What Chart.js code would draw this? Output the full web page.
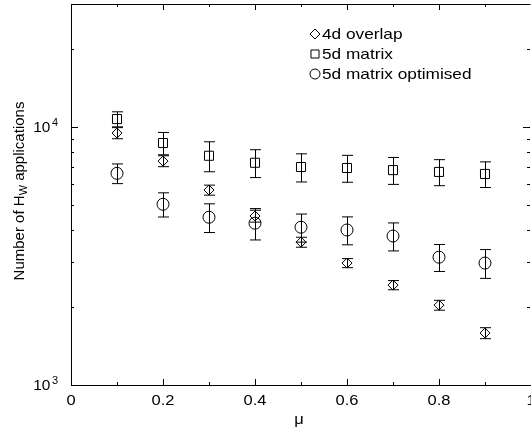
<!DOCTYPE html>
<html>
<head>
<meta charset="utf-8">
<script src="https://cdn.jsdelivr.net/npm/chart.js@4.4.0/dist/chart.umd.min.js"></script>
<style>
html, body { margin: 0; padding: 0; background: #fff; }
#wrap { width: 531px; height: 432px; }
</style>
</head>
<body>
<div id="wrap"><canvas id="chart"></canvas></div>
<script>
// values
const mu = [0.1, 0.2, 0.3, 0.4, 0.5, 0.6, 0.7, 0.8, 0.9];
const overlap4d = [9480, 7380, 5700, 4520, 3580, 2970, 2440, 2040, 1590];
const overlap4dErr = [470, 360, 255, 240, 160, 120, 100, 90, 78];
const matrix5d = [10740, 8670, 7740, 7270, 7000, 6940, 6810, 6700, 6580];
const matrix5dErr = [720, 860, 1030, 900, 875, 830, 815, 775, 750];
const matrix5dOpt = [6615, 5020, 4470, 4240, 4090, 3990, 3780, 3130, 2970];
const matrix5dOptErr = [580, 540, 570, 590, 510, 495, 470, 375, 380];

const seriesNames = ['4d overlap', '5d matrix', '5d matrix optimised'];
const xTicks = [0, 0.2, 0.4, 0.6, 0.8, 1];
const xTickLabels = ['0', '0.2', '0.4', '0.6', '0.8', '1'];
const xMinorTicks = [0.1, 0.3, 0.5, 0.7, 0.9];
const yTicks = [1000, 10000];
const yTickExp = ['3', '4'];
const yMinorTicks = [2000, 3000, 4000, 5000, 6000, 7000, 8000, 9000, 20000];

const FONT = '"Liberation Sans", Arial, sans-serif';

function pts(ys, errs)
{
    return mu.map((x, i) => ({ x: x, y: ys[i], err: errs[i] }));
}

// text with a little horizontal stretch, like the original postscript
function text(ctx, s, x, y, size, align, sx)
{
    ctx.save();
    ctx.font = size + 'px ' + FONT;
    const w = ctx.measureText(s).width * sx;
    let x0 = x;
    if (align === 'center') x0 = x - w / 2;
    if (align === 'right') x0 = x - w;
    ctx.translate(x0, y);
    ctx.scale(sx, 1);
    ctx.textAlign = 'left';
    ctx.textBaseline = 'alphabetic';
    ctx.fillStyle = '#000';
    ctx.fillText(s, 0, 0);
    ctx.restore();
    return w;
}

const errorBars = {
    id: 'errorBars',
    beforeDatasetsDraw(chart) {
        const ctx = chart.ctx;
        const xs = chart.scales.x, ys = chart.scales.y;
        ctx.save();
        ctx.strokeStyle = '#000';
        ctx.lineWidth = 1;
        chart.data.datasets.forEach(ds => {
            ds.data.forEach(p => {
                const px = Math.round(xs.getPixelForValue(p.x)) + 0.5;
                const top = ys.getPixelForValue(p.y + p.err);
                const bot = ys.getPixelForValue(p.y - p.err);
                ctx.beginPath();
                ctx.moveTo(px, top); ctx.lineTo(px, bot);
                ctx.moveTo(px - 5.5, top); ctx.lineTo(px + 5.5, top);
                ctx.moveTo(px - 5.5, bot); ctx.lineTo(px + 5.5, bot);
                ctx.stroke();
            });
        });
        ctx.restore();
    }
};

const frame = {
    id: 'frame',
    afterDraw(chart) {
        const ctx = chart.ctx;
        const a = chart.chartArea;
        const xs = chart.scales.x, ys = chart.scales.y;
        ctx.save();
        ctx.strokeStyle = '#000';
        ctx.lineWidth = 1;
        ctx.beginPath();
        ctx.moveTo(a.left + 0.5, a.top + 0.5);
        ctx.lineTo(a.right - 0.5, a.top + 0.5);
        ctx.moveTo(a.left + 0.5, a.top);
        ctx.lineTo(a.left + 0.5, a.bottom + 0.5);
        ctx.lineTo(a.right, a.bottom + 0.5);
        ctx.stroke();

        // ticks point inwards on all four sides
        ctx.beginPath();
        const xt = (v, len) => {
            const px = Math.round(xs.getPixelForValue(v)) + 0.5;
            ctx.moveTo(px, a.bottom); ctx.lineTo(px, a.bottom - len);
            ctx.moveTo(px, a.top); ctx.lineTo(px, a.top + len);
        };
        const yt = (v, len) => {
            const py = Math.round(ys.getPixelForValue(v)) + 0.5;
            ctx.moveTo(a.left, py); ctx.lineTo(a.left + len, py);
            ctx.moveTo(a.right - 1, py); ctx.lineTo(a.right - 1 - len, py);
        };
        xTicks.forEach(v => xt(v, 6));
        xMinorTicks.forEach(v => xt(v, 3));
        yTicks.forEach(v => yt(v, 7));
        yMinorTicks.forEach(v => yt(v, 3));
        ctx.stroke();

        xTicks.forEach((v, i) => {
            text(ctx, xTickLabels[i], xs.getPixelForValue(v), a.bottom + 20, 15, 'center', 1.1);
        });
        yTicks.forEach((v, i) => {
            const py = ys.getPixelForValue(v);
            const sw = text(ctx, yTickExp[i], 58, py - 1, 10, 'right', 1.1);
            text(ctx, '10', 58 - sw - 1.5, py + 5, 14, 'right', 1.1);
        });

        text(ctx, '\u03bc', 299, 424, 15, 'center', 1.1);

        // rotated y title with subscript W
        ctx.save();
        ctx.translate(24, 191);
        ctx.rotate(-Math.PI / 2);
        ctx.fillStyle = '#000';
        ctx.textBaseline = 'alphabetic';
        ctx.font = '15px ' + FONT;
        const p1 = 'Number of H', p3 = ' applications';
        const w1 = ctx.measureText(p1).width, w3 = ctx.measureText(p3).width;
        ctx.font = '11px ' + FONT;
        const w2 = ctx.measureText('W').width;
        let x = -(w1 + w2 + w3) / 2;
        ctx.font = '15px ' + FONT;
        ctx.fillText(p1, x, 0);
        ctx.font = '11px ' + FONT;
        ctx.fillText('W', x + w1, 3);
        ctx.font = '15px ' + FONT;
        ctx.fillText(p3, x + w1 + w2, 0);
        ctx.restore();

        // legend, hollow symbols like the plot
        const rows = [34, 54, 74];
        chart.data.datasets.forEach((ds, i) => {
            ctx.save();
            ctx.fillStyle = 'rgba(0,0,0,0)';
            ctx.strokeStyle = '#000';
            ctx.lineWidth = 1;
            Chart.helpers.drawPoint(ctx, {
                pointStyle: ds.pointStyle,
                radius: ds.legendRadius,
                rotation: 0,
                borderWidth: 1
            }, 315, rows[i]);
            ctx.restore();
            text(ctx, seriesNames[i], 322, rows[i] + 5, 15, 'left', 1.15);
        });
        ctx.restore();
    }
};

const common = {
    showLine: false,
    borderColor: '#000',
    backgroundColor: 'rgba(0,0,0,0)',
    borderWidth: 1,
    pointBorderWidth: 1
};

new Chart(document.getElementById('chart'), {
    type: 'scatter',
    data: {
        datasets: [
            Object.assign({ label: seriesNames[0], data: pts(overlap4d, overlap4dErr), pointStyle: 'rectRot', pointRadius: 5, legendRadius: 5 }, common),
            Object.assign({ label: seriesNames[1], data: pts(matrix5d, matrix5dErr), pointStyle: 'rect', pointRadius: 6.4, legendRadius: 5.7 }, common),
            Object.assign({ label: seriesNames[2], data: pts(matrix5dOpt, matrix5dOptErr), pointStyle: 'circle', pointRadius: 6, legendRadius: 5 }, common)
        ]
    },
    options: {
        responsive: true,
        maintainAspectRatio: false,
        animation: false,
        layout: { autoPadding: false, padding: { left: 71, right: 0, top: 4, bottom: 47 } },
        plugins: {
            legend: { display: false },
            tooltip: { enabled: false }
        },
        elements: { point: { hoverRadius: 6 } },
        scales: {
            x: { type: 'linear', min: 0, max: 1, display: false },
            y: { type: 'logarithmic', min: 1000, max: 30000, display: false }
        }
    },
    plugins: [errorBars, frame]
});
</script>
</body>
</html>
